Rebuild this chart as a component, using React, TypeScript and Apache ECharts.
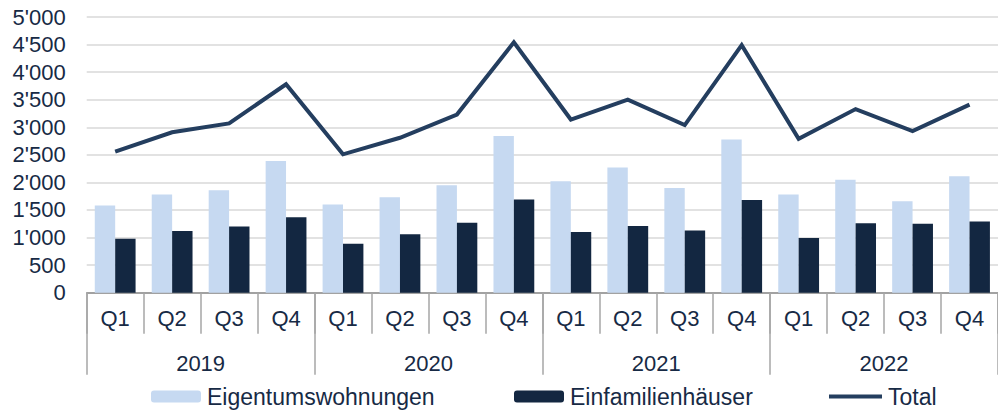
import React, { useEffect, useRef } from "react";
import * as echarts from "echarts";

const quarters = ["Q1", "Q2", "Q3", "Q4", "Q1", "Q2", "Q3", "Q4", "Q1", "Q2", "Q3", "Q4", "Q1", "Q2", "Q3", "Q4"];
const years = ["2019", "2020", "2021", "2022"];
const eigentumswohnungen = [1580, 1780, 1860, 2390, 1600, 1730, 1950, 2840, 2020, 2270, 1900, 2780, 1780, 2050, 1660, 2110];
const einfamilienhaeuser = [980, 1120, 1200, 1370, 890, 1060, 1270, 1690, 1100, 1210, 1130, 1680, 990, 1260, 1250, 1290];
const total = [2560, 2910, 3070, 3780, 2510, 2810, 3230, 4540, 3140, 3500, 3040, 4490, 2790, 3330, 2930, 3410];

const TEXT = "#172A45";
const FONT = "'Liberation Sans', Arial, sans-serif";

function fmt(v: number): string {
  if (v >= 1000) {
    const th = Math.floor(v / 1000);
    const rest = String(v % 1000).padStart(3, "0");
    return th + "'" + rest;
  }
  return String(v);
}

export default function App() {
  const ref = useRef<HTMLDivElement>(null);
  useEffect(() => {
    if (!ref.current) return;
    const chart = echarts.init(ref.current, null, { renderer: "svg" });
    const legendText = { color: TEXT, fontSize: 23, fontFamily: FONT, padding: [0, 0, 0, 1] };
    chart.setOption({
      animation: false,
      backgroundColor: "#ffffff",
      grid: { left: 86.7, top: 17, width: 921.6, height: 275.7 },
      legend: [
        { left: 146, top: 380, itemWidth: 50, itemHeight: 12, itemGap: 0, textStyle: legendText, data: ["Eigentumswohnungen"] },
        { left: 509, top: 380, itemWidth: 50, itemHeight: 12, itemGap: 0, textStyle: legendText, data: ["Einfamilienhäuser"] },
        { left: 824, top: 380, itemWidth: 53, itemHeight: 4, itemGap: 0, textStyle: legendText, data: [{ name: "Total", icon: "rect" }] },
      ],
      xAxis: [
        {
          type: "category",
          data: quarters,
          position: "bottom",
          axisLine: { show: true, lineStyle: { color: "#8C8C8C", width: 1.5 } },
          axisTick: { show: true, interval: 0, length: 41, lineStyle: { color: "#A6A6A6", width: 1.5 } },
          axisLabel: { interval: 0, margin: 15, color: TEXT, fontSize: 22, fontFamily: FONT },
          splitLine: { show: false },
        },
        {
          type: "category",
          data: years,
          position: "bottom",
          axisLine: { show: false },
          axisTick: { show: true, interval: 0, length: 82, lineStyle: { color: "#A6A6A6", width: 1.5 } },
          axisLabel: { interval: 0, margin: 60, color: TEXT, fontSize: 22, fontFamily: FONT },
          splitLine: { show: false },
        },
      ],
      yAxis: {
        type: "value",
        min: 0,
        max: 5000,
        interval: 500,
        axisLine: { show: false },
        axisTick: { show: false },
        axisLabel: { margin: 21, color: TEXT, fontSize: 22, fontFamily: FONT, formatter: (v: number) => fmt(v) },
        splitLine: { lineStyle: { color: "#D9D9D9", width: 1.5 } },
      },
      series: [
        {
          name: "Eigentumswohnungen",
          type: "bar",
          data: eigentumswohnungen,
          barWidth: 20.4,
          barGap: "0%",
          itemStyle: { color: "#C6D9F1" },
        },
        {
          name: "Einfamilienhäuser",
          type: "bar",
          data: einfamilienhaeuser,
          barWidth: 20.4,
          barGap: "0%",
          itemStyle: { color: "#132741" },
        },
        {
          name: "Total",
          type: "line",
          data: total,
          symbol: "none",
          showSymbol: false,
          lineStyle: { color: "#243E5F", width: 4, join: "miter" },
          itemStyle: { color: "#243E5F" },
        },
      ],
    });
    return () => chart.dispose();
  }, []);
  return <div ref={ref} style={{ position: "fixed", left: 0, top: 0, width: 998, height: 412 }} />;
}
